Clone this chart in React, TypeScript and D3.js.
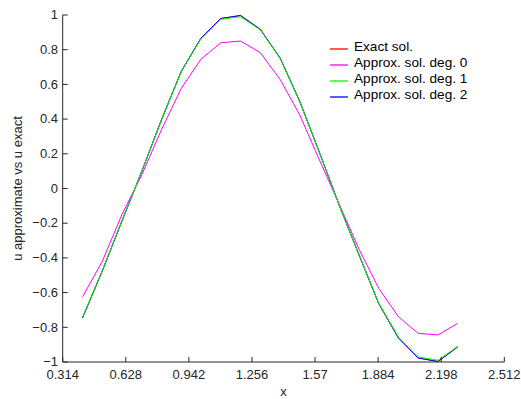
import React from "react";
import * as d3 from "d3";

const xValues = [0.413, 0.511, 0.609, 0.708, 0.806, 0.904, 1.002, 1.101, 1.199, 1.297, 1.396, 1.494, 1.592, 1.69, 1.789, 1.887, 1.985, 2.083, 2.182, 2.28];
const exactSol = [-0.745, -0.475, -0.187, 0.1, 0.397, 0.675, 0.866, 0.98, 0.997, 0.918, 0.752, 0.502, 0.207, -0.095, -0.383, -0.663, -0.861, -0.977, -0.997, -0.913];
const approxDeg0 = [-0.624, -0.42, -0.15, 0.08, 0.34, 0.577, 0.745, 0.84, 0.85, 0.783, 0.629, 0.424, 0.164, -0.09, -0.35, -0.575, -0.739, -0.835, -0.844, -0.777];
const approxDeg1 = [-0.742, -0.473, -0.186, 0.1, 0.396, 0.673, 0.862, 0.975, 0.99, 0.915, 0.75, 0.5, 0.206, -0.095, -0.382, -0.66, -0.856, -0.971, -0.99, -0.91];
const approxDeg2 = [-0.745, -0.475, -0.187, 0.1, 0.397, 0.675, 0.866, 0.98, 0.997, 0.918, 0.752, 0.502, 0.207, -0.095, -0.383, -0.663, -0.861, -0.977, -0.997, -0.913];

const xTicks = [0.314, 0.628, 0.942, 1.256, 1.57, 1.884, 2.198, 2.512];
const yTicks = [-1, -0.8, -0.6, -0.4, -0.2, 0, 0.2, 0.4, 0.6, 0.8, 1];

const seriesNames = ["Exact sol.", "Approx. sol. deg. 0", "Approx. sol. deg. 1", "Approx. sol. deg. 2"];
const seriesColors = ["#ff0000", "#ff00ff", "#00ff00", "#0000ff"];
const seriesData = [exactSol, approxDeg0, approxDeg1, approxDeg2];
const drawOrder = [0, 3, 1, 2];

const W = 521;
const H = 399;
const left = 62.7;
const right = 504.3;
const top = 15;
const bottom = 362;

export default function App() {
  const x = d3.scaleLinear().domain([0.314, 2.512]).range([left, right]);
  const y = d3.scaleLinear().domain([-1, 1]).range([bottom, top]);
  const line = d3
    .line<number>()
    .x((_, i) => x(xValues[i]))
    .y((d) => y(d));
  const font = "Liberation Sans, Arial, Helvetica, sans-serif";
  const axisColor = "#262626";

  return (
    <svg
      width={W}
      height={H}
      style={{ position: "absolute", left: 0, top: 0, background: "#fff" }}
      fontFamily={font}
    >
      <rect x={0} y={0} width={W} height={H} fill="#fff" />
      {drawOrder.map((k) => (
        <path key={"s" + k} d={line(seriesData[k]) || ""} fill="none" stroke={seriesColors[k]} strokeWidth={1} />
      ))}
      <line x1={left} x2={left} y1={top} y2={bottom} stroke={axisColor} strokeWidth={1} />
      <line x1={left} x2={right} y1={bottom} y2={bottom} stroke={axisColor} strokeWidth={1} />
      {xTicks.map((t) => (
        <g key={"x" + t}>
          <line x1={x(t)} x2={x(t)} y1={bottom} y2={bottom - 5} stroke={axisColor} strokeWidth={1} />
          <text x={x(t)} y={379} textAnchor="middle" fontSize={13} fill={axisColor}>
            {String(t)}
          </text>
        </g>
      ))}
      {yTicks.map((t) => (
        <g key={"y" + t}>
          <line x1={left} x2={left + 5} y1={y(t)} y2={y(t)} stroke={axisColor} strokeWidth={1} />
          <text x={58} y={y(t) + 4.2} textAnchor="end" fontSize={13} fill={axisColor}>
            {t < 0 ? "\u2212" + String(-t) : String(t)}
          </text>
        </g>
      ))}
      <text x={(left + right) / 2} y={396} textAnchor="middle" fontSize={13} fill={axisColor}>
        x
      </text>
      <text
        transform={`translate(22, ${(top + bottom) / 2}) rotate(-90)`}
        textAnchor="middle"
        fontSize={13}
        fill={axisColor}
      >
        u approximate vs u exact
      </text>
      {seriesNames.map((name, i) => (
        <g key={"l" + i}>
          <line x1={330} x2={348} y1={49 + 16 * i} y2={49 + 16 * i} stroke={seriesColors[i]} strokeWidth={1.3} />
          <text x={354} y={51.3 + 16 * i} fontSize={13.6} fill="#000">
            {name}
          </text>
        </g>
      ))}
    </svg>
  );
}
